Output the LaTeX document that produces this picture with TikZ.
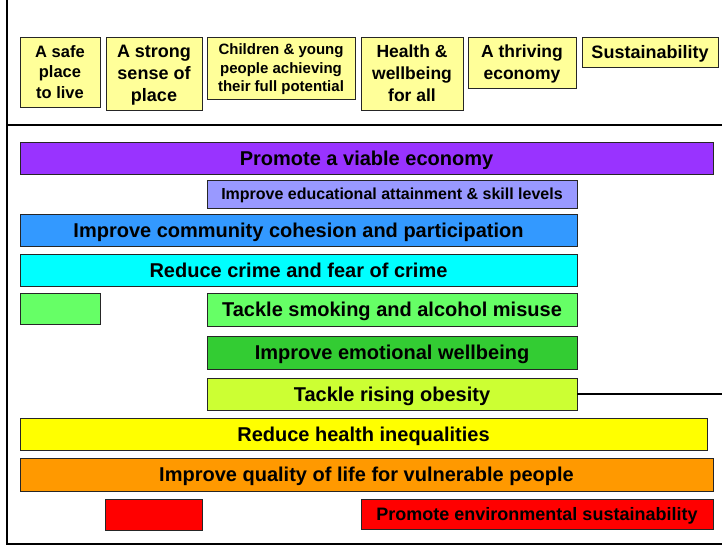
\documentclass[tikz,border=0pt]{standalone}
\usepackage{fontspec}
\setmainfont{Liberation Sans}
\definecolor{cTop}{HTML}{FFFF99}
\definecolor{cPurple}{HTML}{9933FF}
\definecolor{cLav}{HTML}{9999FF}
\definecolor{cBlue}{HTML}{3399FF}
\definecolor{cCyan}{HTML}{00FFFF}
\definecolor{cLGreen}{HTML}{66FF66}
\definecolor{cDGreen}{HTML}{33CC33}
\definecolor{cLime}{HTML}{CCFF33}
\definecolor{cYellow}{HTML}{FFFF00}
\definecolor{cOrange}{HTML}{FF9900}
\definecolor{cRed}{HTML}{FF0000}
\begin{document}
\begin{tikzpicture}[x=1pt,y=-1pt,
  box/.style={draw=black!85, line width=0.9pt, fill=#1, inner sep=0pt, outer sep=0pt,
              anchor=north west, align=center},
  capcenter/.style={text height=#1, text depth=0pt},
  topfont/.style={font=\bfseries\fontsize{17.5}{22}\selectfont},
  barfont/.style={font=\bfseries\fontsize{20}{24}\selectfont, capcenter=14.3pt},
  midfont/.style={font=\bfseries\fontsize{18}{22}\selectfont, capcenter=12.9pt},
  smallfont/.style={font=\bfseries\fontsize{16}{19}\selectfont, capcenter=11.5pt},
  frame/.style={line width=2.5pt, black},
  link/.style={line width=1.8pt, black}]
\useasboundingbox (0,0) rectangle (722,546);
% frame lines
\coordinate (ftop) at (7,0);
\coordinate (fbl) at (7,544);
\coordinate (fbr) at (722,544);
\coordinate (dl) at (7,125);
\coordinate (dr) at (722,125);
\draw[frame] (ftop) -- (fbl) -- (fbr);
\draw[frame] (dl) -- (dr);
% top boxes
\node[box=cTop, font=\bfseries\fontsize{16.5}{20.5}\selectfont, minimum width=80pt, minimum height=70pt, text depth=0pt] (t1) at (20,37) {A safe\\place\\to live};
\node[box=cTop, font=\bfseries\fontsize{18}{22}\selectfont, minimum width=96pt, minimum height=73pt, text depth=0pt] (t2) at (106,37) {A strong\\sense of\\place};
\node[box=cTop, font=\bfseries\fontsize{15}{18.5}\selectfont, minimum width=148pt, minimum height=62pt, text depth=0pt] (t3) at (207,37) {Children \& young\\people achieving\\their full potential};
\node[box=cTop, topfont, minimum width=102pt, minimum height=73pt, text depth=0pt] (t4) at (361,37) {Health \&\\wellbeing\\for all};
\node[box=cTop, topfont, minimum width=108pt, minimum height=51pt, text depth=0pt] (t5) at (468,37) {A thriving\\economy};
\node[box=cTop, font=\bfseries\fontsize{18}{22}\selectfont, capcenter=12.9pt, minimum width=136pt, minimum height=30pt] (t6) at (582,37) {Sustainability};
% bars
\node[box=cPurple, barfont, minimum width=693pt, minimum height=32pt] (b1) at (20,142) {Promote a viable economy};
\node[box=cLav, smallfont, minimum width=370pt, minimum height=28pt] (b2) at (207,180) {Improve educational attainment \& skill levels};
\node[box=cBlue, barfont, minimum width=557pt, minimum height=32pt] (b3) at (20,214) {Improve community cohesion and participation};
\node[box=cCyan, barfont, minimum width=557pt, minimum height=32pt] (b4) at (20,254) {Reduce crime and fear of crime};
\node[box=cLGreen, minimum width=80pt, minimum height=31pt] (b5a) at (20,293) {};
\node[box=cLGreen, barfont, minimum width=370pt, minimum height=33pt] (b5) at (207,293) {Tackle smoking and alcohol misuse};
\node[box=cDGreen, barfont, minimum width=370pt, minimum height=33pt] (b6) at (207,336) {Improve emotional wellbeing};
\node[box=cLime, barfont, minimum width=370pt, minimum height=32pt] (b7) at (207,378) {Tackle rising obesity};
\node[box=cYellow, barfont, minimum width=687pt, minimum height=32pt] (b8) at (20,418) {Reduce health inequalities};
\node[box=cOrange, barfont, minimum width=693pt, minimum height=33pt] (b9) at (20,458) {Improve quality of life for vulnerable people};
\node[box=cRed, minimum width=97pt, minimum height=31pt] (b10a) at (105,499) {};
\node[box=cRed, midfont, minimum width=352pt, minimum height=30pt] (b10) at (361,499) {Promote environmental sustainability};
% connector
\coordinate (rout) at (722,394);
\draw[link] (b7.east) -- (rout);
\end{tikzpicture}
\end{document}
